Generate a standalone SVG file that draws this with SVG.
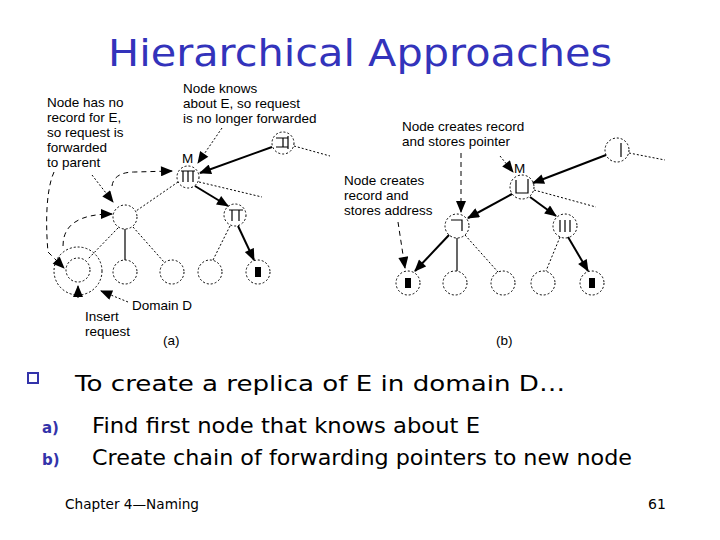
<svg xmlns="http://www.w3.org/2000/svg" width="720" height="540" viewBox="0 0 720 540">
<defs>
<marker id="ah" viewBox="0 0 12 10" refX="11" refY="5" markerWidth="13" markerHeight="10" markerUnits="userSpaceOnUse" orient="auto">
<path d="M0,0 L12,5 L0,10 z" fill="#000"/>
</marker>
</defs>
<style>
.lbl{font-family:"Liberation Sans",Arial,sans-serif;font-size:13.5px;fill:#000}
.node{fill:none;stroke:#000;stroke-width:1;stroke-dasharray:2,2}
.sym{fill:none;stroke:#000;stroke-width:1.2}
.blk{fill:#000}
.solidA{stroke:#000;stroke-width:2;fill:none;marker-end:url(#ah)}
.solid{stroke:#000;stroke-width:1.2;fill:none}
.dot{stroke:#000;stroke-width:1;fill:none;stroke-dasharray:2,2}
.dashA{stroke:#000;stroke-width:1;fill:none;stroke-dasharray:5,4;marker-end:url(#ah)}
.dotA{stroke:#000;stroke-width:1;fill:none;stroke-dasharray:2,2;marker-end:url(#ah)}
.comic{font-family:"DejaVu Sans",sans-serif;fill:#000}
</style>
<rect width="720" height="540" fill="#fff"/>

<text x="108" y="66" class="comic" style="fill:#3333bb;font-size:38px" textLength="504" lengthAdjust="spacingAndGlyphs">Hierarchical Approaches</text>

<g id="labels-a">
<text class="lbl" x="47" y="107">Node has no</text>
<text class="lbl" x="47" y="122">record for E,</text>
<text class="lbl" x="47" y="137">so request is</text>
<text class="lbl" x="47" y="152">forwarded</text>
<text class="lbl" x="47" y="167">to parent</text>
<text class="lbl" x="183" y="93">Node knows</text>
<text class="lbl" x="183" y="108">about E, so request</text>
<text class="lbl" x="183" y="123">is no longer forwarded</text>
<text class="lbl" x="182" y="163">M</text>
<text class="lbl" x="132" y="310">Domain D</text>
<text class="lbl" x="85" y="321">Insert</text>
<text class="lbl" x="85" y="336">request</text>
<text class="lbl" x="163" y="345">(a)</text>
</g>

<g id="labels-b">
<text class="lbl" x="402" y="131">Node creates record</text>
<text class="lbl" x="402" y="146">and stores pointer</text>
<text class="lbl" x="344" y="185">Node creates</text>
<text class="lbl" x="344" y="200">record and</text>
<text class="lbl" x="344" y="215">stores address</text>
<text class="lbl" x="514" y="173">M</text>
<text class="lbl" x="496" y="345">(b)</text>
</g>

<g id="a-top">
<circle class="node" cx="283" cy="143" r="11"/>
<path class="sym" d="M276,138 H288 M276,147 H288 M283,138 V147 M288,136 V149"/>
</g>
<g id="a-M">
<circle class="node" cx="188" cy="177" r="11"/>
<path class="sym" d="M181,171 H195 M183,171 V182 M188,171 V182 M193,171 V182"/>
</g>
<g id="a-left">
<circle class="node" cx="125" cy="217" r="12"/>
</g>
<g id="a-right">
<circle class="node" cx="235" cy="215" r="11"/>
<path class="sym" d="M229,210 H243 M232,210 V221 M239,210 V221"/>
</g>
<g id="a-b1">
<circle class="node" cx="78" cy="270" r="12"/>
<circle class="node" cx="78" cy="271" r="24"/>
</g>
<g id="a-b2"><circle class="node" cx="125" cy="272" r="12"/></g>
<g id="a-b3"><circle class="node" cx="172" cy="272" r="12"/></g>
<g id="a-b4"><circle class="node" cx="210" cy="272" r="12"/></g>
<g id="a-b5">
<circle class="node" cx="258" cy="272" r="12"/>
<rect class="blk" x="255" y="267" width="6" height="10"/>
</g>

<g id="b-top">
<circle class="node" cx="617" cy="150" r="12"/>
<path class="sym" d="M621,143 V157"/>
</g>
<g id="b-M">
<circle class="node" cx="522" cy="187" r="12"/>
<path class="sym" d="M516,180 V193 H528 V179"/>
</g>
<g id="b-left">
<circle class="node" cx="457" cy="226" r="12"/>
<path class="sym" d="M451,220 H462 V231"/>
</g>
<g id="b-right">
<circle class="node" cx="565" cy="226" r="12"/>
<path class="sym" d="M560,220 V232 M565,220 V232 M570,220 V232"/>
</g>
<g id="b-b1">
<circle class="node" cx="408" cy="283" r="12"/>
<rect class="blk" x="405" y="278" width="6" height="10"/>
</g>
<g id="b-b2"><circle class="node" cx="455" cy="283" r="12"/></g>
<g id="b-b3"><circle class="node" cx="503" cy="283" r="12"/></g>
<g id="b-b4"><circle class="node" cx="543" cy="283" r="12"/></g>
<g id="b-b5">
<circle class="node" cx="592" cy="283" r="12"/>
<rect class="blk" x="589" y="278" width="6" height="10"/>
</g>

<g id="connectors">
<path class="solidA" d="M272,147 L200,173"/>
<path class="solidA" d="M195,186 L228,206"/>
<path class="solidA" d="M238,226 L254,260"/>
<path class="dot" d="M294,146 L330,156"/>
<path class="dot" d="M199,182 L262,197"/>
<path class="dot" d="M178,182 L136,211"/>
<path class="solid" d="M125,229 V260"/>
<path class="dot" d="M118,228 L88,259"/>
<path class="dot" d="M133,227 L164,262"/>
<path class="dot" d="M230,226 L213,260"/>
<path class="dotA" d="M222,128 L198,163"/>
<path class="dotA" d="M92,175 L113,202"/>
<path class="dashA" d="M112,186 Q114,172 135,172 L172,171"/>
<path class="dashA" d="M63,246 C63,224 80,214 112,214"/>
<path class="dashA" d="M54,172 C45,192 46,230 48,252 L64,268"/>
<path class="dashA" d="M78,298 L78,286"/>
<path class="dotA" d="M128,302 L101,291"/>
<path class="solidA" d="M606,155 L533,183"/>
<path class="solidA" d="M512,194 L468,218"/>
<path class="solidA" d="M530,197 L556,216"/>
<path class="solidA" d="M449,235 L415,271"/>
<path class="solidA" d="M568,237 L588,271"/>
<path class="dot" d="M629,153 L665,160"/>
<path class="dot" d="M534,190 L596,207"/>
<path class="solid" d="M457,238 V271"/>
<path class="dot" d="M465,235 L498,272"/>
<path class="dot" d="M560,237 L546,271"/>
<path class="dashA" d="M461,153 L461,212"/>
<path class="dotA" d="M500,156 L513,172"/>
<path class="dashA" d="M398,222 L405,268"/>
</g>

<g id="bullets">
<rect x="28" y="373" width="10" height="10" fill="none" stroke="#3333aa" stroke-width="2"/>
<text x="75" y="391" class="comic" style="font-size:22px" textLength="490" lengthAdjust="spacingAndGlyphs">To create a replica of E in domain D…</text>
<text x="42" y="433" class="comic" style="font-size:15px;font-weight:bold;fill:#3333aa">a)</text>
<text x="92" y="433" class="comic" style="font-size:21px" textLength="388" lengthAdjust="spacingAndGlyphs">Find first node that knows about E</text>
<text x="42" y="465" class="comic" style="font-size:15px;font-weight:bold;fill:#3333aa">b)</text>
<text x="92" y="465" class="comic" style="font-size:21px" textLength="540" lengthAdjust="spacingAndGlyphs">Create chain of forwarding pointers to new node</text>
<text x="65" y="509" class="comic" style="font-size:14px" textLength="134" lengthAdjust="spacingAndGlyphs">Chapter 4—Naming</text>
<text x="648" y="509" class="comic" style="font-size:14px">61</text>
</g>
</svg>
